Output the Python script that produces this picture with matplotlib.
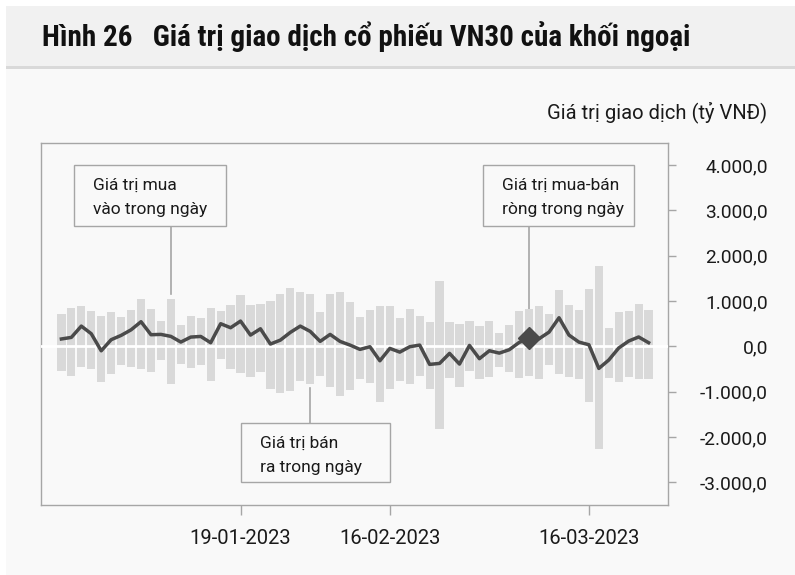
import matplotlib.pyplot as plt
from matplotlib.patches import Rectangle
from matplotlib.ticker import FuncFormatter
import numpy as np

# foreign investors' daily trading in VN30 stocks (bn VND)
buy_vals = [711, 843, 894, 777, 680, 762, 651, 812, 1049, 828, 563, 1049, 475, 673, 632,
            843, 784, 916, 1137, 916, 945, 997, 1159, 1291, 1210, 1159, 762, 1152, 1203, 989,
            658, 806, 901, 901, 629, 828, 680, 548, 1446, 548, 497, 563, 453, 570, 298,
            483, 790, 821, 894, 724, 1247, 916, 812, 1269, 1777, 402, 755, 784, 932, 806]
sell_vals = [-547, -644, -446, -497, -777, -614, -408, -446, -504, -570, -298, -828, -379, -467, -412,
             -762, -283, -504, -578, -666, -556, -945, -1020, -982, -762, -828, -651, -887, -1093, -960,
             -724, -813, -1218, -945, -755, -835, -651, -945, -1821, -702, -887, -541, -724, -666, -446,
             -556, -702, -644, -724, -408, -614, -666, -717, -1232, -2263, -702, -790, -666, -724, -724]

x_tick_idx = [18, 33, 53]
x_tick_labels = ['19-01-2023', '16-02-2023', '16-03-2023']
y_ticks = [-3000, -2000, -1000, 0, 1000, 2000, 3000, 4000]

buy_note_idx = 11
sell_note_idx = 25
net_note_idx = 47

buy = np.array(buy_vals)
sell = np.array(sell_vals)
net = buy + sell
x = np.arange(len(buy))

W, H = 795, 575
plt.rcParams['font.family'] = ['Roboto', 'DejaVu Sans']

fig = plt.figure(figsize=(W / 100, H / 100), dpi=100)
fig.patch.set_facecolor('white')


def fx(px):
    return px / W


def fy(py):
    return 1 - py / H


# panel, title band and its bottom rule
fig.add_artist(Rectangle((fx(6), 0), 1 - fx(6), fy(6), transform=fig.transFigure,
                         facecolor='#f9f9f9', edgecolor='none', zorder=0))
fig.add_artist(Rectangle((fx(6), fy(66)), 1 - fx(6), fy(6) - fy(66), transform=fig.transFigure,
                         facecolor='#f1f1f1', edgecolor='none', zorder=0))
fig.add_artist(Rectangle((fx(6), fy(68.5)), 1 - fx(6), fy(66) - fy(68.5), transform=fig.transFigure,
                         facecolor='#d9d9d9', edgecolor='none', zorder=0))

fig.text(fx(41.5), fy(45.5), 'Hình 26   Giá trị giao dịch cổ phiếu VN30 của khối ngoại',
         family=['Roboto Condensed', 'Roboto', 'DejaVu Sans'], fontweight='bold',
         fontsize=21, color='#111111', ha='left', va='baseline')
fig.text(fx(767), fy(118.5), 'Giá trị giao dịch (tỷ VNĐ)', fontsize=14.5,
         color='#1a1a1a', ha='right', va='baseline')

ax = fig.add_axes([fx(41), fy(505), fx(668) - fx(41), fy(142.5) - fy(505)])
ax.set_facecolor('#f9f9f9')

ax.bar(x, buy, width=0.83, color='#d9d9d9', zorder=2)
ax.bar(x, sell, width=0.83, color='#d9d9d9', zorder=2)
ax.axhline(0, color='white', lw=2, zorder=3)
ax.plot(x, net, color='#4a4a4a', lw=2.5, zorder=4)
ax.plot(net_note_idx, net[net_note_idx], marker='D', ms=11.5, color='#4a4a4a', zorder=5)

ax.set_xlim(-2.05, 60.95)
ax.set_ylim(-3500, 4500)

for s in ax.spines.values():
    s.set_color('#a6a6a6')
    s.set_linewidth(1.0)

ax.yaxis.tick_right()
ax.set_yticks(y_ticks)
ax.yaxis.set_major_formatter(FuncFormatter(
    lambda v, p: f'{v:,.1f}'.replace(',', ' ').replace('.', ',').replace(' ', '.')))
ax.tick_params(axis='y', direction='out', length=6, width=1, color='#a6a6a6',
               labelsize=13.8, labelcolor='#1a1a1a', pad=66)
for lab in ax.get_yticklabels():
    lab.set_ha('right')

ax.set_xticks(x_tick_idx)
ax.set_xticklabels(x_tick_labels)
ax.tick_params(axis='x', direction='out', length=7, width=1, color='#a6a6a6',
               labelsize=14.5, labelcolor='#1a1a1a', pad=10)

inv = ax.transData.inverted()


def to_data(px, py):
    return inv.transform((px, H - py))


def note_box(left, top, right, bottom, lines):
    x0, y0 = to_data(left, bottom)
    x1, y1 = to_data(right, top)
    ax.add_patch(Rectangle((x0, y0), x1 - x0, y1 - y0, facecolor='#f9f9f9',
                           edgecolor='#a6a6a6', lw=1.0, zorder=6, clip_on=False))
    for i, t in enumerate(lines):
        tx, ty = to_data(left + 19, top + 25 + 24 * i)
        ax.text(tx, ty, t, fontsize=12.5, color='#1a1a1a', ha='left', va='baseline', zorder=7)
    return y0, y1


# callouts
b_bot, b_top = note_box(74.3, 165, 225.7, 225.7, ['Giá trị mua', 'vào trong ngày'])
ax.plot([buy_note_idx, buy_note_idx], [buy[buy_note_idx] + 110, b_bot],
        color='#a6a6a6', lw=1.2, zorder=1)

s_bot, s_top = note_box(240.7, 422.7, 389.7, 482.3, ['Giá trị bán', 'ra trong ngày'])
ax.plot([sell_note_idx, sell_note_idx], [sell[sell_note_idx] - 90, s_top],
        color='#a6a6a6', lw=1.2, zorder=1)

n_bot, n_top = note_box(482.7, 165, 634.3, 225.7, ['Giá trị mua-bán', 'ròng trong ngày'])
ax.plot([net_note_idx, net_note_idx], [net[net_note_idx], n_bot],
        color='#a6a6a6', lw=1.2, zorder=1)

fig.savefig('out.png', dpi=100, facecolor=fig.get_facecolor())
